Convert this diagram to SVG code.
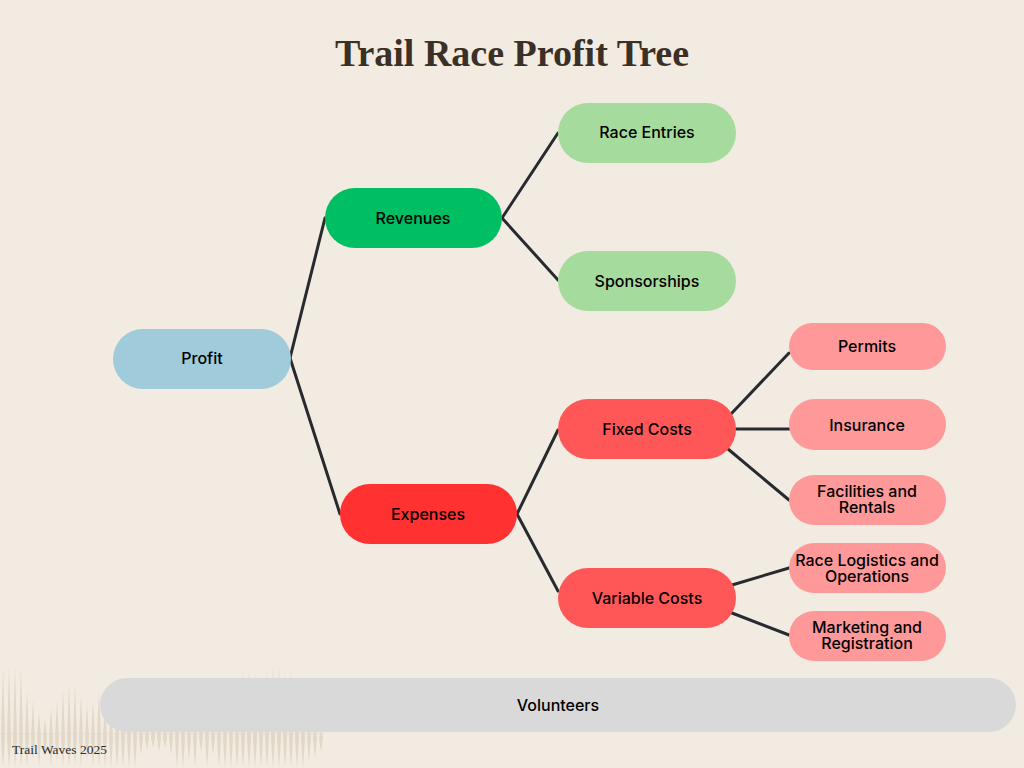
<svg xmlns="http://www.w3.org/2000/svg" width="1024" height="768" viewBox="0 0 1024 768">
<style>
.lbl{font-family:Inter,"Noto Sans","Liberation Sans",sans-serif;font-size:16px;font-weight:500;fill:#000;text-anchor:middle}
.edge{stroke:#272A2F;stroke-width:3;fill:none;stroke-linecap:round}
.title{font-family:"Liberation Serif","DejaVu Serif",serif;font-size:38px;font-weight:bold;fill:#3B3026;text-anchor:middle}
.foot{font-family:"Liberation Serif","DejaVu Serif",serif;font-size:13.5px;fill:#2E2A26}
</style>
<rect width="1024" height="768" fill="#F2EBE1"/>
<g id="waves" fill="#E2D8C8">
<path d="M3,667L5,738L3,768L1,738Z M9,667L11,738L9,768L7,738Z M15,667L17,738L15,768L13,738Z M21,667L23,738L21,768L19,738Z M27,690L29,738L27,768L25,738Z M33,700L35,738L33,760L31,738Z M39,712L41,738L39,768L37,738Z M45,718L47,738L45,758L43,738Z M51,708L53,738L51,768L49,738Z M57,700L59,738L57,762L55,738Z M63,690L65,738L63,768L61,738Z M69,683L71,738L69,768L67,738Z M75,683L77,738L75,765L73,738Z M81,695L83,738L81,768L79,738Z M87,705L89,738L87,760L85,738Z M93,700L95,738L93,768L91,738Z M99,690L101,738L99,768L97,738Z M105,700L107,738L105,768L103,738Z M111,700L113,738L111,768L109,738Z M117,700L119,738L117,768L115,738Z M123,700L125,738L123,768L121,738Z M129,700L131,738L129,768L127,738Z M135,700L137,738L135,768L133,738Z M141,700L143,738L141,755L139,738Z M147,700L149,738L147,750L145,738Z M153,700L155,738L153,748L151,738Z M159,700L161,738L159,752L157,738Z M165,700L167,738L165,748L163,738Z M171,700L173,738L171,755L169,738Z M177,700L179,738L177,768L175,738Z M183,700L185,738L183,768L181,738Z M189,700L191,738L189,760L187,738Z M195,700L197,738L195,768L193,738Z M201,700L203,738L201,752L199,738Z M207,700L209,738L207,768L205,738Z M213,700L215,738L213,755L211,738Z M219,700L221,738L219,768L217,738Z M225,700L227,738L225,768L223,738Z M231,700L233,738L231,768L229,738Z M237,700L239,738L237,768L235,738Z M243,666L245,738L243,768L241,738Z M249,666L251,738L249,768L247,738Z M255,670L257,738L255,768L253,738Z M261,680L263,738L261,768L259,738Z M267,666L269,738L267,768L265,738Z M273,666L275,738L273,768L271,738Z M279,666L281,738L279,768L277,738Z M285,670L287,738L285,768L283,738Z M291,666L293,738L291,768L289,738Z M297,680L299,738L297,768L295,738Z M303,700L305,738L303,768L301,738Z M309,710L311,738L309,762L307,738Z M315,720L317,738L315,758L313,738Z M321,730L323,738L321,752L319,738Z"/>
<rect x="0" y="733" width="325" height="1" opacity="0.6"/>
</g>
<text class="title" x="512" y="66">Trail Race Profit Tree</text>
<g id="connectors">
<line class="edge" x1="290" y1="358" x2="325" y2="218"/>
<line class="edge" x1="290" y1="358" x2="340" y2="514"/>
<line class="edge" x1="502" y1="218" x2="558" y2="133"/>
<line class="edge" x1="502" y1="218" x2="558" y2="280"/>
<line class="edge" x1="517" y1="514" x2="558" y2="430"/>
<line class="edge" x1="517" y1="514" x2="558" y2="591"/>
<line class="edge" x1="731" y1="414" x2="789" y2="353"/>
<line class="edge" x1="736" y1="429" x2="789" y2="429"/>
<line class="edge" x1="728" y1="449" x2="789" y2="500"/>
<line class="edge" x1="732" y1="585" x2="789" y2="568"/>
<line class="edge" x1="732" y1="613" x2="789" y2="635"/>
</g>
<g id="profit"><rect x="113" y="329" width="178" height="60" rx="30" fill="#9FCBDB"/><text class="lbl" x="202" y="364">Profit</text></g>
<g id="revenues"><rect x="325" y="188" width="177" height="60" rx="30" fill="#00BF63"/><text class="lbl" x="413" y="224">Revenues</text></g>
<g id="race-entries"><rect x="558" y="103" width="178" height="60" rx="30" fill="#A6DB9E"/><text class="lbl" x="647" y="138">Race Entries</text></g>
<g id="sponsorships"><rect x="558" y="251" width="178" height="60" rx="30" fill="#A6DB9E"/><text class="lbl" x="647" y="287">Sponsorships</text></g>
<g id="expenses"><rect x="340" y="484" width="177" height="60" rx="30" fill="#FF3131"/><text class="lbl" x="428" y="520">Expenses</text></g>
<g id="fixed-costs"><rect x="558" y="399" width="178" height="60" rx="30" fill="#FF5757"/><text class="lbl" x="647" y="435">Fixed Costs</text></g>
<g id="variable-costs"><rect x="558" y="568" width="178" height="60" rx="30" fill="#FF5757"/><text class="lbl" x="647" y="604">Variable Costs</text></g>
<g id="permits"><rect x="789" y="323" width="157" height="47" rx="23.5" fill="#FF9999"/><text class="lbl" x="867" y="352">Permits</text></g>
<g id="insurance"><rect x="789" y="399" width="157" height="51" rx="25.5" fill="#FF9999"/><text class="lbl" x="867" y="431">Insurance</text></g>
<g id="facilities"><rect x="789" y="475" width="157" height="50" rx="25" fill="#FF9999"/><text class="lbl" x="867" y="496.5">Facilities and<tspan x="867" dy="16">Rentals</tspan></text></g>
<g id="race-logistics"><rect x="789" y="543" width="157" height="50" rx="25" fill="#FF9999"/><text class="lbl" x="867" y="565.5">Race Logistics and<tspan x="867" dy="16">Operations</tspan></text></g>
<g id="marketing"><rect x="789" y="611" width="157" height="50" rx="25" fill="#FF9999"/><text class="lbl" x="867" y="632.5">Marketing and<tspan x="867" dy="16">Registration</tspan></text></g>
<g id="volunteers"><rect x="100" y="678" width="916" height="54" rx="27" fill="#D9D9D9"/><text class="lbl" x="558" y="711">Volunteers</text></g>
<text class="foot" x="12" y="754">Trail Waves 2025</text>
</svg>
